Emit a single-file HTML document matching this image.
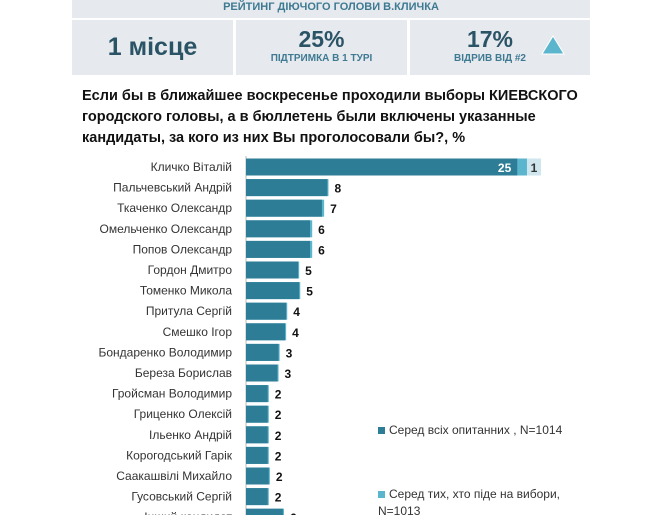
<!DOCTYPE html>
<html><head><meta charset="utf-8"><style>
body{margin:0;width:650px;height:515px;overflow:hidden;background:#fff;font-family:"Liberation Sans",sans-serif;position:relative}
.p{position:absolute}
</style></head><body>
<div class="p" style="left:72px;top:0;width:518px;height:75px;background:#e6e9ed"></div>
<div class="p" style="left:72px;top:0;width:518px;height:16px;text-align:center;font-size:11px;font-weight:bold;color:#3e7a92;line-height:14px">РЕЙТИНГ ДІЮЧОГО ГОЛОВИ В.КЛИЧКА</div>
<div class="p" style="left:72px;top:18px;width:518px;height:2px;background:#fff"></div>
<div class="p" style="left:233px;top:20px;width:3px;height:55px;background:#fff"></div>
<div class="p" style="left:407px;top:20px;width:3px;height:55px;background:#fff"></div>
<div class="p" style="left:72px;top:33px;width:161px;text-align:center;font-size:25px;font-weight:bold;color:#2b5366">1 місце</div>
<div class="p" style="left:236px;top:26px;width:171px;text-align:center;color:#2b5366"><div style="font-size:23px;font-weight:bold">25%</div><div style="font-size:10px;font-weight:bold;color:#3e7a92">ПІДТРИМКА В 1 ТУРІ</div></div>
<div class="p" style="left:410px;top:26px;width:160px;text-align:center;color:#2b5366"><div style="font-size:23px;font-weight:bold">17%</div><div style="font-size:10px;font-weight:bold;color:#3e7a92">ВІДРИВ ВІД #2</div></div>
<svg class="p" style="left:540px;top:34px" width="26" height="22"><polygon points="13,2 24,20 2,20" fill="#5bb5cc" stroke="#fff" stroke-width="1"/></svg>
<div class="p" style="left:82px;top:86px;width:520px;font-size:14.5px;font-weight:bold;line-height:21px;color:#111">Если бы в ближайшее воскресенье проходили выборы КИЕВСКОГО городского головы, а в бюллетень были включены указанные кандидаты, за кого из них Вы проголосовали бы?, %</div>
<svg class="p" id="chart" style="left:0;top:0" width="650" height="515"></svg>
<div class="p" style="left:378px;top:423px;font-size:12px;color:#333"><span style="display:inline-block;width:7px;height:7px;background:#2e7d96;margin-right:4px"></span>Серед всіх опитанних , N=1014</div>
<div class="p" style="left:378px;top:486px;font-size:12px;color:#333;line-height:17px"><span style="display:inline-block;width:7px;height:7px;background:#5bb5cc;margin-right:4px"></span>Серед тих, хто піде на вибори,<br>N=1013</div>
<script>
const categories=["Кличко Віталій","Пальчевський Андрій","Ткаченко Олександр","Омельченко Олександр","Попов Олександр","Гордон Дмитро","Томенко Микола","Притула Сергій","Смешко Ігор","Бондаренко Володимир","Береза Борислав","Гройсман Володимир","Гриценко Олексій","Ільенко Андрій","Корогодський Гарік","Саакашвілі Михайло","Гусовський Сергій","Інший кандидат"];
const allValues=[25,7.5,7.0,5.9,5.9,4.8,4.9,3.7,3.6,3.0,2.9,2.0,2.0,2.0,2.0,2.1,2.0,3.4];
const voterValues=[27,7.6,7.2,6.1,6.1,4.9,5.0,3.8,3.7,3.1,3.0,2.1,2.1,2.1,2.1,2.2,2.1,3.5];
const valueLabels=["25","8","7","6","6","5","5","4","4","3","3","2","2","2","2","2","2","6"];
const extraLabel="1";
const ns="http://www.w3.org/2000/svg",svg=document.getElementById("chart");
const x0=246,scale=10.85,y0=167,step=20.6,bh=17;
const xs=v=>x0+v*scale, ys=i=>y0+i*step;
function mk(t,a){const e=document.createElementNS(ns,t);for(const k in a)e.setAttribute(k,a[k]);svg.appendChild(e);return e;}
const ax=mk("line",{x1:x0,y1:156,x2:x0,y2:515,stroke:"#bbb"});


categories.forEach((c,i)=>{
 const y=ys(i);
 const l=mk("text",{x:232,y:y+4,"text-anchor":"end","font-size":"12",fill:"#333"});l.textContent=c;
 
 
 const b2=mk("rect",{x:x0,y:y-bh/2,width:xs(voterValues[i])-x0,height:bh,fill:"#5bb5cc"});
 
 
 const b=mk("rect",{x:x0,y:y-bh/2,width:xs(allValues[i])-x0,height:bh,fill:"#2e7d96"});
 
 
 let t;
 if(i===0){
  t=mk("text",{x:xs(allValues[i])-6,y:y+5,"text-anchor":"end","font-size":"12","font-weight":"bold",fill:"#fff"});
  const r=mk("rect",{x:xs(voterValues[i])-12,y:y-bh/2,width:14,height:bh,fill:"#cfe6ee"});
  
  
  const t2=mk("text",{x:xs(voterValues[i])-5,y:y+5,"text-anchor":"middle","font-size":"12","font-weight":"bold",fill:"#333"});t2.textContent=extraLabel;
  
  
 } else t=mk("text",{x:xs(voterValues[i])+6,y:y+5,"font-size":"12","font-weight":"bold",fill:"#111"});
 t.textContent=valueLabels[i];
 
 
});
</script>
</body></html>
